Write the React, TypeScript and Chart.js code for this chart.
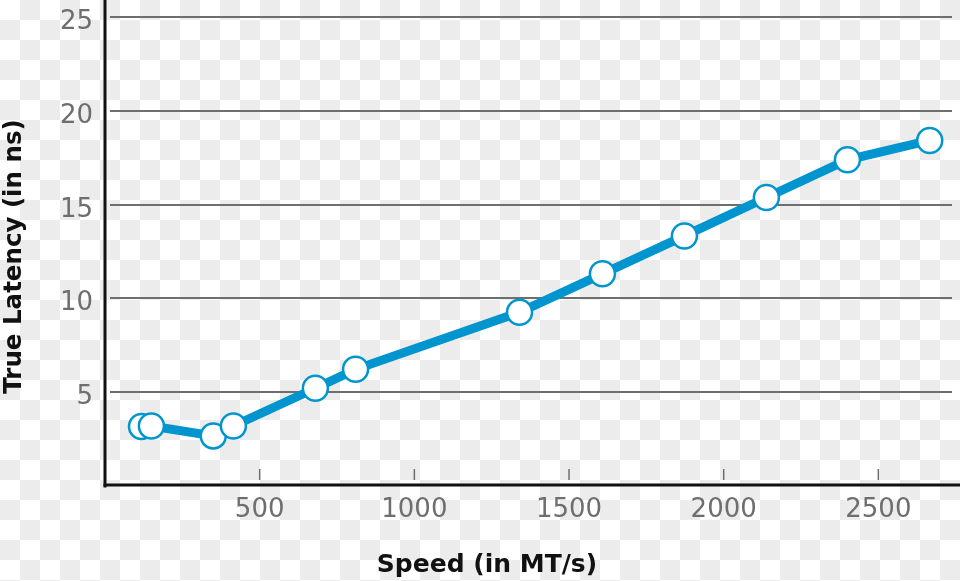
import React, { useEffect, useRef } from "react";
import { Chart, registerables } from "chart.js";

Chart.register(...registerables);

const speeds = [118, 150, 350, 415, 680, 810, 1340, 1608, 1873, 2138, 2400, 2666];
const latencies = [3.17, 3.2, 2.67, 3.2, 5.21, 6.22, 9.26, 11.31, 13.33, 15.38, 17.39, 18.42];
const xTicks = [500, 1000, 1500, 2000, 2500];
const yTicks = [5, 10, 15, 20, 25];
const xTitle = "Speed (in MT/s)";
const yTitle = "True Latency (in ns)";

const BLUE = "#0095cf";
const GREY = "#6e6e6e";
const TICK_FONT = "26px 'DejaVu Sans', sans-serif";
const TITLE_FONT = "bold 25px 'DejaVu Sans', sans-serif";
const YTITLE_FONT = "bold 24.5px 'DejaVu Sans', sans-serif";

const decorPlugin = {
  id: "decor",
  beforeDatasetsDraw(chart: any) {
    const { ctx, chartArea, scales } = chart;
    const x = scales.x;
    const y = scales.y;
    ctx.save();
    // horizontal gridlines
    ctx.strokeStyle = GREY;
    ctx.lineWidth = 2;
    yTicks.forEach((v) => {
      const py = Math.round(y.getPixelForValue(v));
      ctx.beginPath();
      ctx.moveTo(chartArea.left + 5, py);
      ctx.lineTo(chartArea.right, py);
      ctx.stroke();
    });
    // small x tick marks inside plot
    ctx.lineWidth = 1.5;
    xTicks.forEach((v) => {
      const px = x.getPixelForValue(v);
      ctx.beginPath();
      ctx.moveTo(px, chartArea.bottom - 17);
      ctx.lineTo(px, chartArea.bottom - 6);
      ctx.stroke();
    });
    // axis lines
    ctx.strokeStyle = "#111111";
    ctx.lineWidth = 3;
    ctx.beginPath();
    ctx.moveTo(chartArea.left, 0);
    ctx.lineTo(chartArea.left, chartArea.bottom + 1.5);
    ctx.stroke();
    ctx.beginPath();
    ctx.moveTo(chartArea.left - 1.5, chartArea.bottom - 1);
    ctx.lineTo(chart.width, chartArea.bottom - 1);
    ctx.stroke();

    // tick labels
    ctx.fillStyle = GREY;
    ctx.font = TICK_FONT;
    ctx.textBaseline = "alphabetic";
    ctx.textAlign = "right";
    yTicks.forEach((v) => {
      const py = y.getPixelForValue(v);
      ctx.fillText(String(v), chartArea.left - 12, py + 12);
    });
    ctx.textAlign = "center";
    xTicks.forEach((v) => {
      const px = x.getPixelForValue(v);
      ctx.fillText(String(v), px, chartArea.bottom + 31);
    });
    ctx.restore();
  },
  afterDraw(chart: any) {
    const { ctx } = chart;
    ctx.save();
    ctx.fillStyle = "#111111";
    ctx.textAlign = "center";
    ctx.textBaseline = "alphabetic";
    ctx.font = TITLE_FONT;
    ctx.fillText(xTitle, 487, 572);
    ctx.translate(21, 256.5);
    ctx.rotate(-Math.PI / 2);
    ctx.font = YTITLE_FONT;
    ctx.fillText(yTitle, 0, 0);
    ctx.restore();
  },
};

export default function App() {
  const ref = useRef<HTMLCanvasElement | null>(null);
  useEffect(() => {
    if (!ref.current) return;
    const chart = new Chart(ref.current, {
      type: "scatter",
      data: {
        datasets: [
          {
            data: speeds.map((s, i) => ({ x: s, y: latencies[i] })),
            showLine: true,
            borderColor: BLUE,
            borderWidth: 9,
            pointRadius: 12.5,
            pointBorderWidth: 2.5,
            pointBackgroundColor: "#ffffff",
            pointBorderColor: BLUE,
            clip: false,
          } as any,
        ],
      },
      options: {
        animation: false,
        responsive: false,
        devicePixelRatio: 1,
        layout: { autoPadding: false, padding: { top: 17, right: 8, left: 0, bottom: 0 } },
        plugins: { legend: { display: false }, tooltip: { enabled: false } },
        scales: {
          x: {
            type: "linear",
            min: 0,
            max: 2738,
            grid: { display: false, drawTicks: false },
            border: { display: false },
            ticks: { display: false, stepSize: 500, includeBounds: false },
            afterFit: (s: any) => {
              s.height = 95;
            },
          },
          y: {
            type: "linear",
            min: 0,
            max: 25,
            grid: { display: false, drawTicks: false },
            border: { display: false },
            ticks: { display: false, stepSize: 5 },
            afterFit: (s: any) => {
              s.width = 105;
            },
          },
        },
      },
      plugins: [decorPlugin],
    });
    return () => chart.destroy();
  }, []);
  return (
    <div
      style={{
        position: "absolute",
        left: 0,
        top: 0,
        width: 960,
        height: 581,
        backgroundColor: "#ffffff",
        backgroundImage: "repeating-conic-gradient(#ececec 0% 25%, #ffffff 0% 50%)",
        backgroundSize: "40px 40px",
        backgroundPosition: "0 0",
      }}
    >
      <canvas ref={ref} width={960} height={581} style={{ display: "block" }} />
    </div>
  );
}
